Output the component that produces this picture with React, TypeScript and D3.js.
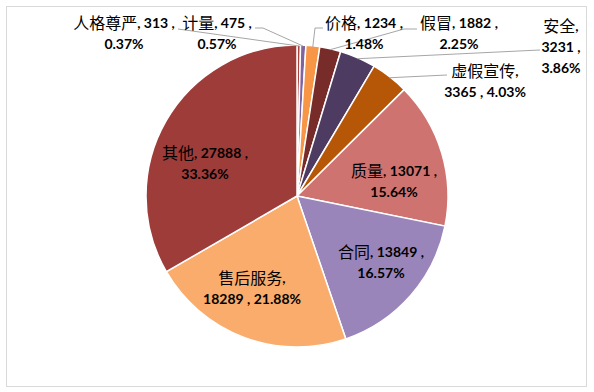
import React from 'react';
import * as d3 from 'd3';

const names = ['人格尊严', '计量', '价格', '假冒', '安全', '虚假宣传', '质量', '合同', '售后服务', '其他'];
const values = [313, 475, 1234, 1882, 3231, 3365, 13071, 13849, 18289, 27888];
const percents = ['0.37%', '0.57%', '1.48%', '2.25%', '3.86%', '4.03%', '15.64%', '16.57%', '21.88%', '33.36%'];
const colors = ['#A8423F', '#7F64A2', '#F79646', '#772C2A', '#4D3B62', '#B65708', '#CF7370', '#9A85BA', '#F9AC6C', '#9E3C3A'];

// layout (label placement): [centerX, firstLineY, format]
const labelLayout: [number, number, string][] = [
  [124, 22, 'A'],
  [217, 22, 'A'],
  [364, 22, 'A'],
  [459, 22, 'A'],
  [561, 25, 'B'],
  [485, 70, 'C'],
  [394, 170, 'A'],
  [381, 251, 'A'],
  [252, 277, 'C'],
  [205, 152, 'A'],
];
// leader line start points near label (null = none)
const leaders: ([number, number][] | null)[] = [
  [[178, 29]],
  [[255, 28], [263, 28]],
  [[323, 28], [315, 28]],
  [[417, 29], [404, 29]],
  [[540, 50]],
  [[447, 75]],
  null, null, null, null,
];

const W = 594, H = 392;
const cx = 297, cy = 196, R = 151;

export default function App() {
  const pie = d3.pie<number>().sort(null).value(d => d)(values);
  const arc = d3.arc<d3.PieArcDatum<number>>().innerRadius(0).outerRadius(R);
  const cjk = { fontFamily: '"Noto Sans CJK SC", sans-serif', fontSize: 16, fontWeight: 400 } as const;
  const num = { fontFamily: 'Lato, "Noto Sans", sans-serif', fontSize: 14, fontWeight: 700 } as const;

  const lines = (i: number): [string, string][] => {
    const f = labelLayout[i][2];
    const n = names[i], v = String(values[i]), p = percents[i];
    if (f === 'A') return [[n, ', ' + v + ' ,'], ['', p]];
    if (f === 'B') return [[n, ','], ['', v + ' ,'], ['', p]];
    return [[n, ','], ['', v + ' , ' + p]];
  };

  return (
    <div style={{ position: 'fixed', left: 0, top: 0 }}>
      <svg width={W} height={H} style={{ display: 'block', background: '#fff' }}>
        <rect x={6.5} y={6.5} width={580} height={380} fill="#fff" stroke="#D9D9D9" strokeWidth={1} />
        <g transform={`translate(${cx},${cy})`}>
          {pie.map((d, i) => (
            <path key={i} d={arc(d) || ''} fill={colors[i]} stroke="#fff" strokeWidth={1.5} />
          ))}
        </g>
        {pie.map((d, i) => {
          const pts = leaders[i];
          if (!pts) return null;
          const a = (d.startAngle + d.endAngle) / 2;
          const end: [number, number] = [cx + Math.sin(a) * (R - 1), cy - Math.cos(a) * (R - 1)];
          const all = [...pts, end];
          return (
            <polyline key={'l' + i} points={all.map(p => p.join(',')).join(' ')} fill="none" stroke="#A6A6A6" strokeWidth={1} />
          );
        })}
        {names.map((_, i) => {
          const [lx, ly] = labelLayout[i];
          return lines(i).map((ln, j) => (
            <text key={i + '-' + j} x={lx} y={ly + j * 21} textAnchor="middle" dominantBaseline="central" fill="#000">
              {ln[0] ? <tspan style={cjk}>{ln[0]}</tspan> : null}
              <tspan style={num}>{ln[1]}</tspan>
            </text>
          ));
        })}
      </svg>
    </div>
  );
}
